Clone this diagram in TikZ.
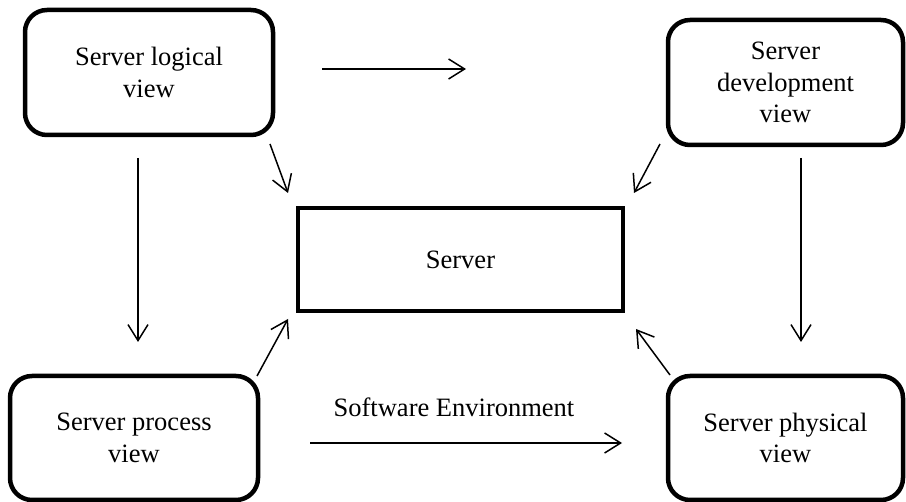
\documentclass[tikz,border=0pt]{standalone}
\usepackage{fontspec}
\setmainfont{Liberation Serif}
\usetikzlibrary{arrows.meta}
\begin{document}
\begin{tikzpicture}[x=1pt,y=-1pt,
  viewbox/.style={draw,line width=4.5pt,rounded corners=22pt,align=center,
    font=\fontsize{26.5}{31.5}\selectfont,inner sep=0pt},
  srvbox/.style={draw,line width=4.5pt,align=center,font=\fontsize{26.5}{31.5}\selectfont,inner sep=0pt},
  arr/.style={-{Straight Barb[length=16pt,width=20pt,line width=1.5pt]},line width=1.5pt},
  lbl/.style={font=\fontsize{26.5}{31.5}\selectfont,inner sep=0pt}]
\useasboundingbox (0,0) rectangle (906,502);
\node[viewbox,minimum width=248pt,minimum height=125pt] (logical) at (149,72.5) {Server logical\\view};
\node[viewbox,minimum width=235pt,minimum height=125pt] (dev) at (785.5,82.5) {Server\\development\\view};
\node[viewbox,minimum width=248pt,minimum height=124pt] (process) at (134,438) {Server process\\view};
\node[viewbox,minimum width=235pt,minimum height=124pt] (physical) at (785.5,438) {Server physical\\view};
\node[srvbox,minimum width=325pt,minimum height=103pt] (server) at (460.5,259.5) {Server};
% connector end points
\coordinate (t1) at (322,69); \coordinate (t2) at (466,69);
\coordinate (l1) at (138,158); \coordinate (l2) at (138,342);
\coordinate (d1) at (801,158); \coordinate (d2) at (801,342);
\coordinate (b1) at (310,443); \coordinate (b2) at (622,443);
\coordinate (ls1) at (270,144); \coordinate (ls2) at (288,193);
\coordinate (ds1) at (660,144); \coordinate (ds2) at (634,193);
\coordinate (ps1) at (257,376); \coordinate (ps2) at (288,319);
\coordinate (hs1) at (670,375); \coordinate (hs2) at (636,329);
\draw[arr] (t1) -- (t2);
\draw[arr] (l1) -- (l2);
\draw[arr] (d1) -- (d2);
\draw[arr] (b1) -- (b2);
\node[lbl,anchor=base] (env) at (454,417) {Software Environment};
\draw[arr] (ls1) -- (ls2);
\draw[arr] (ds1) -- (ds2);
\draw[arr] (ps1) -- (ps2);
\draw[arr] (hs1) -- (hs2);
\end{tikzpicture}
\end{document}
